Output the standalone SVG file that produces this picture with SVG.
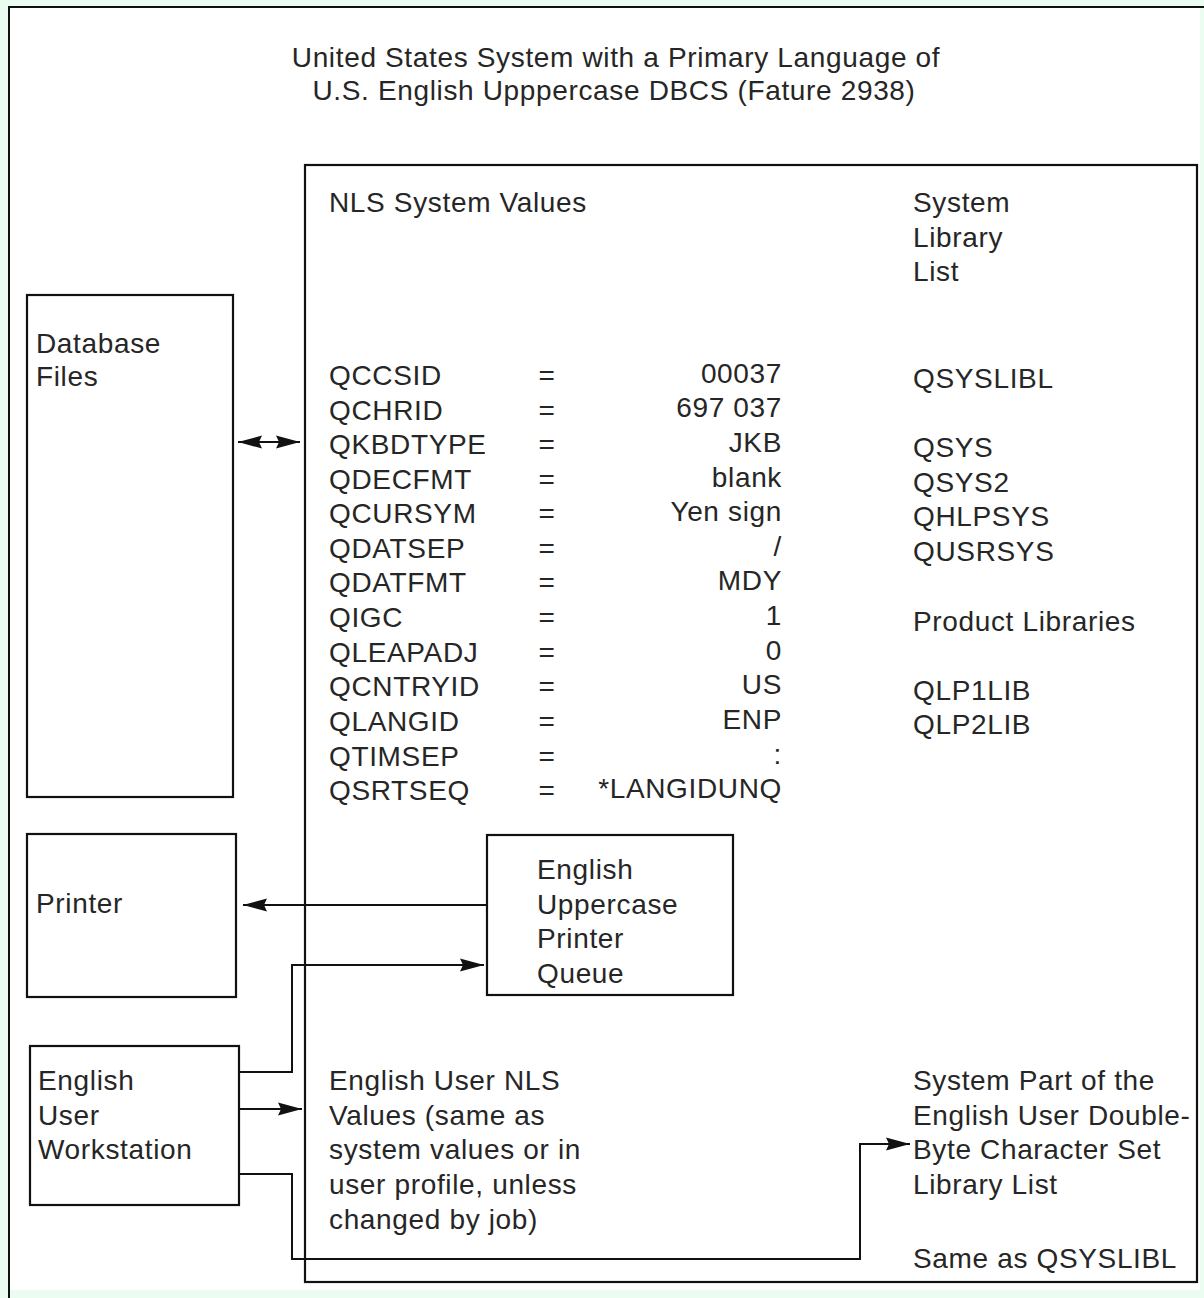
<svg xmlns="http://www.w3.org/2000/svg" width="1204" height="1298" viewBox="0 0 1204 1298">
<defs>
<style>
text{font-family:"Liberation Sans",Arial,sans-serif;font-size:28px;letter-spacing:0.65px;fill:#262626}
.box{fill:none;stroke:#111;stroke-width:2.2}
.ln{fill:none;stroke:#111;stroke-width:2}
.r{text-anchor:end}
.m{text-anchor:middle}
</style>
<marker id="ah" viewBox="0 0 24 14" refX="24" refY="7" markerWidth="24" markerHeight="14" markerUnits="userSpaceOnUse" orient="auto-start-reverse">
<path d="M0,0.5 L24,7 L0,13.5 L3,7 Z" fill="#111"/>
</marker>
</defs>
<rect width="1204" height="1298" fill="#ebfcf0"/>
<rect x="10" y="8" width="1190" height="1282" fill="#fff"/>
<path d="M9,1298 V7 H1204" class="ln" stroke-width="2.5"/>
<g id="title">
<text x="616" y="67" class="m">United States System with a Primary Language of</text>
<text x="614" y="100" class="m">U.S. English Upppercase DBCS (Fature 2938)</text>
</g>
<g id="system">
<rect x="305" y="165" width="892" height="1117" class="box"/>
<text x="329" y="212">NLS System Values</text>
<text x="913" y="212">System</text>
<text x="913" y="247">Library</text>
<text x="913" y="281">List</text>
<g id="nls-values">
<text x="329" y="385">QCCSID</text><text x="547" y="385" class="m">=</text><text x="782" y="383" class="r">00037</text>
<text x="329" y="420">QCHRID</text><text x="547" y="420" class="m">=</text><text x="782" y="417" class="r">697 037</text>
<text x="329" y="454">QKBDTYPE</text><text x="547" y="454" class="m">=</text><text x="782" y="452" class="r">JKB</text>
<text x="329" y="489">QDECFMT</text><text x="547" y="489" class="m">=</text><text x="782" y="487" class="r">blank</text>
<text x="329" y="523">QCURSYM</text><text x="547" y="523" class="m">=</text><text x="782" y="521" class="r">Yen sign</text>
<text x="329" y="558">QDATSEP</text><text x="547" y="558" class="m">=</text><text x="782" y="556" class="r">/</text>
<text x="329" y="592">QDATFMT</text><text x="547" y="592" class="m">=</text><text x="782" y="590" class="r">MDY</text>
<text x="329" y="627">QIGC</text><text x="547" y="627" class="m">=</text><text x="782" y="625" class="r">1</text>
<text x="329" y="662">QLEAPADJ</text><text x="547" y="662" class="m">=</text><text x="782" y="660" class="r">0</text>
<text x="329" y="696">QCNTRYID</text><text x="547" y="696" class="m">=</text><text x="782" y="694" class="r">US</text>
<text x="329" y="731">QLANGID</text><text x="547" y="731" class="m">=</text><text x="782" y="729" class="r">ENP</text>
<text x="329" y="766">QTIMSEP</text><text x="547" y="766" class="m">=</text><text x="782" y="764" class="r">:</text>
<text x="329" y="800">QSRTSEQ</text><text x="547" y="800" class="m">=</text><text x="782" y="798" class="r">*LANGIDUNQ</text>
</g>
<g id="library-list">
<text x="913" y="388">QSYSLIBL</text>
<text x="913" y="457">QSYS</text>
<text x="913" y="492">QSYS2</text>
<text x="913" y="526">QHLPSYS</text>
<text x="913" y="561">QUSRSYS</text>
<text x="913" y="631">Product Libraries</text>
<text x="913" y="700">QLP1LIB</text>
<text x="913" y="734">QLP2LIB</text>
</g>
<g id="user-nls">
<text x="329" y="1090">English User NLS</text>
<text x="329" y="1125">Values (same as</text>
<text x="329" y="1159">system values or in</text>
<text x="329" y="1194">user profile, unless</text>
<text x="329" y="1229">changed by job)</text>
</g>
<g id="user-library">
<text x="913" y="1090">System Part of the</text>
<text x="913" y="1125">English User Double-</text>
<text x="913" y="1159">Byte Character Set</text>
<text x="913" y="1194">Library List</text>
<text x="913" y="1268">Same as QSYSLIBL</text>
</g>
</g>
<g id="database-files">
<rect x="27" y="295" width="206" height="502" class="box"/>
<text x="36" y="353">Database</text>
<text x="36" y="386">Files</text>
</g>
<g id="printer">
<rect x="27" y="834" width="209" height="163" class="box"/>
<text x="36" y="913">Printer</text>
</g>
<g id="printer-queue">
<rect x="487" y="835" width="246" height="160" class="box"/>
<text x="537" y="879">English</text>
<text x="537" y="914">Uppercase</text>
<text x="537" y="948">Printer</text>
<text x="537" y="983">Queue</text>
</g>
<g id="workstation">
<rect x="30" y="1046" width="209" height="159" class="box"/>
<text x="38" y="1090">English</text>
<text x="38" y="1125">User</text>
<text x="38" y="1159">Workstation</text>
</g>
<g id="connectors">
<path d="M238,442 H300" class="ln" marker-start="url(#ah)" marker-end="url(#ah)"/>
<path d="M487,905 H243" class="ln" marker-end="url(#ah)"/>
<path d="M239,1072 H292 V965 H484" class="ln" marker-end="url(#ah)"/>
<path d="M239,1109 H302" class="ln" marker-end="url(#ah)"/>
<path d="M239,1174 H292 V1259 H860 V1144 H910" class="ln" marker-end="url(#ah)"/>
</g>
</svg>
